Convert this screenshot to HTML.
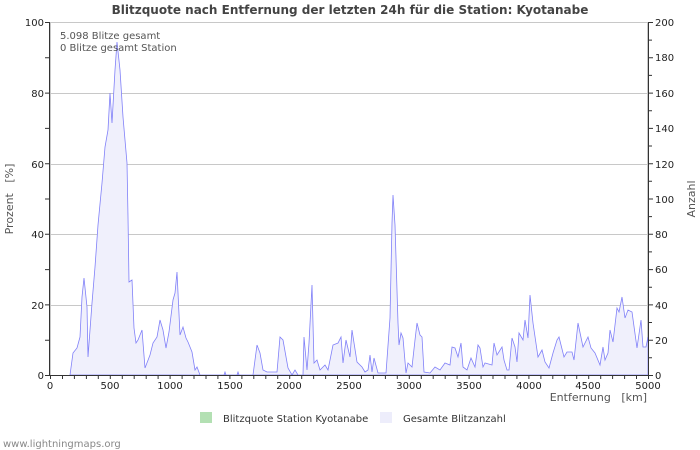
<!DOCTYPE html><html><head><style>body{margin:0;background:#fff}svg{display:block;font-family:"DejaVu Sans","Liberation Sans",sans-serif}text{white-space:pre}</style></head><body>
<svg width="700" height="450" viewBox="0 0 700 450">
<text x="350" y="14" text-anchor="middle" font-size="12" font-weight="bold" fill="#444">Blitzquote nach Entfernung der letzten 24h für die Station: Kyotanabe</text>
<g stroke="#c8c8c8" stroke-width="1">
<line x1="50" y1="93.5" x2="648" y2="93.5"/><line x1="50" y1="164.5" x2="648" y2="164.5"/><line x1="50" y1="234.5" x2="648" y2="234.5"/><line x1="50" y1="305.5" x2="648" y2="305.5"/>
<rect x="50.5" y="22.5" width="597" height="353" fill="none"/>
</g>
<polygon fill="#f0f0fc" stroke="#8080f8" stroke-width="0.8" points="70,375 73,353 77,348 80,337 82,297 84,278 87,307 88,357 92,303 95,267 98,225 102,183 105,147 108,130 110,93 112,123 115,70 117,42 120,70 123,117 127,163 128,217 129,282 132,280 134,328 136,343 138,340 142,330 145,368 150,355 153,343 157,337 160,320 163,330 166,348 169,332 173,300 175,293 177,272 180,335 183,327 186,338 188,342 192,352 195,370 197,367 200,375 224,375 225,372 226,375 237,375 238,372 239,375 253,375 257,345 260,353 263,370 267,372 270,372 277,372 280,337 283,340 288,368 292,375 295,370 298,375 303,375 304,337 307,370 309,343 312,285 314,363 317,360 320,370 325,365 328,370 333,345 338,343 341,337 343,363 346,340 350,357 352,330 357,362 362,367 365,372 368,370 370,355 372,372 374,358 378,373 386,373 390,318 392,223 393,195 395,225 398,323 399,345 401,333 403,338 406,373 408,363 412,367 415,340 417,323 420,335 422,337 424,372 430,373 435,367 440,370 445,363 450,365 452,347 455,348 458,357 461,343 463,367 467,370 471,358 475,367 478,345 480,348 483,367 485,363 492,365 494,343 497,355 502,347 504,360 507,370 509,370 512,338 515,347 517,362 519,333 523,340 525,320 528,338 530,295 533,323 538,357 542,350 545,362 549,368 553,353 557,340 559,337 564,357 567,352 572,352 574,360 578,323 583,347 588,337 591,348 595,353 600,365 603,347 605,360 608,353 610,330 613,342 617,308 619,312 622,297 625,318 628,310 632,312 637,348 641,320 643,347 646,347 648,337 648,375"/>
<g stroke="#333" stroke-width="1">
<line x1="49.5" y1="22" x2="49.5" y2="376"/><line x1="648.5" y1="22" x2="648.5" y2="376"/><line x1="49.5" y1="375.5" x2="648.5" y2="375.5"/>
</g>
<path stroke="#333" stroke-width="1" fill="none" d="M45 375.5h5M45 340.2h5M45 304.9h5M45 269.6h5M45 234.3h5M45 199h5M45 163.7h5M45 128.4h5M45 93.1h5M45 57.8h5M45 22.5h5
M648 375.5h5M648 357.8h4M648 340.2h5M648 322.5h4M648 304.9h5M648 287.2h4M648 269.6h5M648 251.9h4M648 234.3h5M648 216.6h4M648 199h5M648 181.3h4M648 163.7h5M648 146h4M648 128.4h5M648 110.7h4M648 93.1h5M648 75.4h4M648 57.8h5M648 40.1h4M648 22.5h5
M50.5 375v4M62.5 375v4M74.4 375v4M86.4 375v4M98.3 375v4M110.3 375v4M122.3 375v4M134.2 375v4M146.2 375v4M158.1 375v4M170.1 375v4M182.1 375v4M194 375v4M206 375v4M217.9 375v4M229.9 375v4M241.9 375v4M253.8 375v4M265.8 375v4M277.7 375v4M289.7 375v4M301.7 375v4M313.6 375v4M325.6 375v4M337.5 375v4M349.5 375v4M361.5 375v4M373.4 375v4M385.4 375v4M397.3 375v4M409.3 375v4M421.3 375v4M433.2 375v4M445.2 375v4M457.1 375v4M469.1 375v4M481.1 375v4M493 375v4M505 375v4M516.9 375v4M528.9 375v4M540.9 375v4M552.8 375v4M564.8 375v4M576.7 375v4M588.7 375v4M600.7 375v4M612.6 375v4M624.6 375v4M636.5 375v4M648.5 375v4"/>
<g font-size="10" fill="#222" text-anchor="end">
<text x="44" y="26">100</text><text x="44" y="97">80</text><text x="44" y="168">60</text><text x="44" y="238">40</text><text x="44" y="309">20</text><text x="44" y="379">0</text>
</g>
<g font-size="10" fill="#222">
<text x="655" y="26">200</text><text x="655" y="61">180</text><text x="655" y="97">160</text><text x="655" y="132">140</text><text x="655" y="168">120</text><text x="655" y="203">100</text><text x="655" y="238">80</text><text x="655" y="273">60</text><text x="655" y="309">40</text><text x="655" y="344">20</text><text x="655" y="379">0</text>
</g>
<g font-size="10" fill="#222" text-anchor="middle">
<text x="50" y="389">0</text><text x="110" y="389">500</text><text x="170" y="389">1000</text><text x="230" y="389">1500</text><text x="289" y="389">2000</text><text x="349" y="389">2500</text><text x="409" y="389">3000</text><text x="469" y="389">3500</text><text x="529" y="389">4000</text><text x="588" y="389">4500</text><text x="648" y="389">5000</text>
</g>
<text x="647" y="401" font-size="11" fill="#555" text-anchor="end">Entfernung   [km]</text>
<text transform="translate(13,199) rotate(-90)" font-size="11" fill="#555" text-anchor="middle">Prozent   [%]</text>
<text transform="translate(695,199) rotate(-90)" font-size="11" fill="#555" text-anchor="middle">Anzahl</text>
<text x="60" y="39" font-size="10" fill="#555">5.098 Blitze gesamt</text>
<text x="60" y="51" font-size="10" fill="#555">0 Blitze gesamt Station</text>
<rect x="200" y="412" width="12" height="11" fill="#b3e0b3"/>
<text x="223" y="422" font-size="10" fill="#333">Blitzquote Station Kyotanabe</text>
<rect x="380" y="412" width="12" height="11" fill="#ededfb"/>
<text x="403" y="422" font-size="10" fill="#333">Gesamte Blitzanzahl</text>
<text x="3" y="447" font-size="10" fill="#888">www.lightningmaps.org</text>
</svg></body></html>
